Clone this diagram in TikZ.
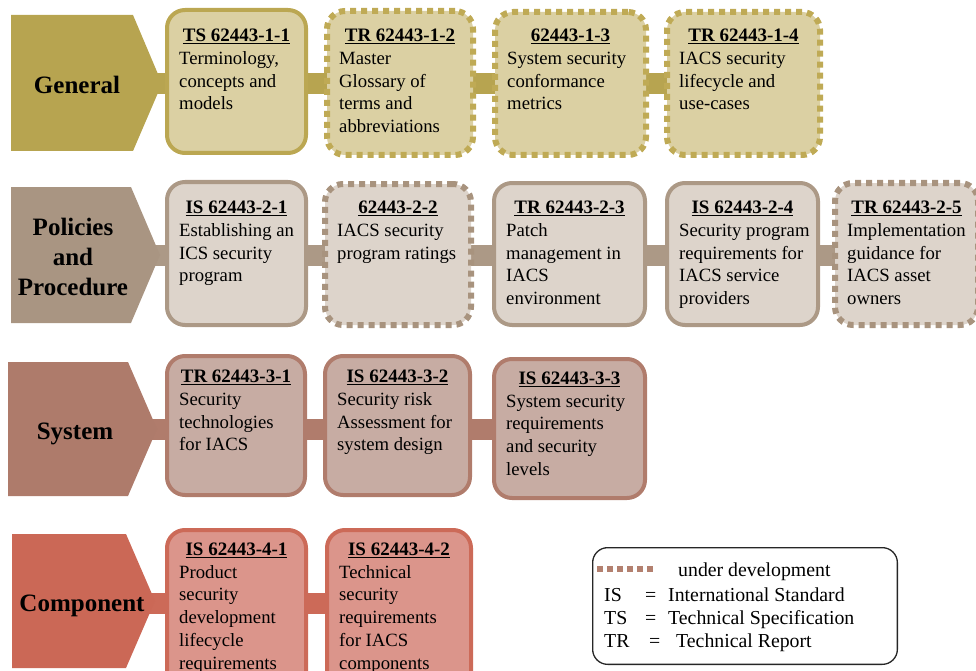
\documentclass[tikz,border=0pt]{standalone}
\usepackage{fontspec}
\setmainfont{Liberation Serif}
\usetikzlibrary{calc}
\pgfdeclarelayer{bars}
\pgfsetlayers{bars,main}

% row colours: dark (label / bar), border, light fill, dotted border
\definecolor{genD}{HTML}{B7A450}\definecolor{genB}{HTML}{BBA752}\definecolor{genL}{HTML}{DBD0A3}\definecolor{genM}{HTML}{BFAA55}
\definecolor{polD}{HTML}{A99582}\definecolor{polB}{HTML}{AC9986}\definecolor{polL}{HTML}{DDD4CB}\definecolor{polM}{HTML}{A8937E}
\definecolor{sysD}{HTML}{AE7B6B}\definecolor{sysB}{HTML}{B07C6C}\definecolor{sysL}{HTML}{C7ACA3}
\definecolor{comD}{HTML}{CB6856}\definecolor{comB}{HTML}{CC6A58}\definecolor{comL}{HTML}{DB958B}
\definecolor{legDot}{HTML}{B3806F}

% bold heading with a heavier underline
\newcommand\hdrline[1]{\setbox0\hbox{\textbf{#1}}\rlap{\vrule height -1.6pt depth 3pt width \wd0}\box0}

% document box: name, style, x1, y1, x2, y2, heading, body lines, heading baseline
\newcommand\docbox[9]{%
  \pgfmathsetmacro\bw{#5-#3-4}\pgfmathsetmacro\bh{#6-#4-4}%
  \pgfmathsetmacro\bx{(#3+#5)/2}\pgfmathsetmacro\by{(#4+#6)/2}%
  \pgfmathsetmacro\bl{#3+14}\pgfmathsetmacro\bt{#9+9}%
  \node[#2, minimum width=\bw pt, minimum height=\bh pt] (#1) at (\bx,\by) {};
  \node[hdr] (#1h) at (\bx,#9) {\hdrline{#7}};
  \node[body] (#1b) at (\bl,\bt) {\rule{0pt}{14pt}#8};
}

\begin{document}
\begin{tikzpicture}[x=1pt,y=-1pt,
  box/.style={draw, rounded corners=18pt, line width=4pt, inner sep=0pt, outer sep=0pt},
  dotbox/.style={box, line width=6pt, dash pattern=on 6pt off 5pt},
  hdr/.style={anchor=base, inner sep=0pt, font=\fontsize{19}{22.7}\selectfont},
  body/.style={anchor=north west, align=left, inner sep=0pt, font=\fontsize{18.7}{22.7}\selectfont},
  lab/.style={anchor=north, align=center, inner sep=0pt, font=\bfseries\fontsize{25}{30.3}\selectfont},
  bar/.style={line width=21pt},
  lg/.style={anchor=base west, inner sep=0pt, font=\fontsize{19.8}{23}\selectfont},
]
\useasboundingbox (0,0) rectangle (976,671);
\clip (0,0) rectangle (976,671);

% ---- row labels (arrow-shaped pentagons)
\fill[genD] (11,15) -- (133,15) -- (162,83.5) -- (133,151) -- (11,151) -- cycle;
\fill[polD] (11,187) -- (131,187) -- (160,255) -- (131,323) -- (11,323) -- cycle;
\fill[sysD] (8,362) -- (128,362) -- (157,429) -- (128,496) -- (8,496) -- cycle;
\fill[comD] (12,534) -- (126,534) -- (155,601) -- (126,668) -- (12,668) -- cycle;

\node[lab] (labG) at (77,75) {\rule{0pt}{18pt}General};
\node[lab] (labP) at (73,217) {\rule{0pt}{18pt}Policies\\and\\Procedure};
\node[lab] (labS) at (75,421) {\rule{0pt}{18pt}System};
\node[lab] (labC) at (82,593) {\rule{0pt}{18pt}Component};

\coordinate (tipG) at (150,83.5);
\coordinate (tipP) at (150,255);
\coordinate (tipS) at (148,429);
\coordinate (tipC) at (145,603);

% ---- General
\docbox{g1}{box, draw=genB, fill=genL}{165}{8}{308}{155}{TS 62443-1-1}{Terminology,\\concepts and\\models}{41.3}
\docbox{g2}{dotbox, draw=genM, fill=genL}{325}{9}{475}{157}{TR 62443-1-2}{Master\\Glossary of\\terms and\\abbreviations}{41.3}
\docbox{g3}{dotbox, draw=genM, fill=genL}{493}{10}{648}{157}{62443-1-3}{System security\\conformance\\metrics}{41.3}
\docbox{g4}{dotbox, draw=genM, fill=genL}{665}{10}{822}{157}{TR 62443-1-4}{IACS security\\lifecycle and\\use-cases}{41.3}

% ---- Policies and Procedure
\docbox{p1}{box, draw=polB, fill=polL}{165}{180}{308}{327}{IS 62443-2-1}{Establishing an\\ICS security\\program}{213.3}
\docbox{p2}{dotbox, draw=polM, fill=polL}{323}{182}{473}{327}{62443-2-2}{IACS security\\program ratings}{213.3}
\docbox{p3}{box, draw=polB, fill=polL}{492}{181}{647}{327}{TR 62443-2-3}{Patch\\management in\\IACS\\environment}{213.3}
\docbox{p4}{box, draw=polB, fill=polL}{665}{181}{820}{327}{IS 62443-2-4}{Security program\\requirements for\\IACS service\\providers}{213.3}
\docbox{p5}{dotbox, draw=polM, fill=polL}{833}{181}{980}{327}{TR 62443-2-5}{Implementation\\guidance for\\IACS asset\\owners}{213.3}

% ---- System
\docbox{s1}{box, draw=sysB, fill=sysL}{165}{354}{307}{497}{TR 62443-3-1}{Security\\technologies\\for IACS}{382.3}
\docbox{s2}{box, draw=sysB, fill=sysL}{323}{354}{472}{497}{IS 62443-3-2}{Security risk\\Assessment for\\system design}{382.3}
\docbox{s3}{box, draw=sysB, fill=sysL}{492}{357}{647}{500}{IS 62443-3-3}{System security\\requirements\\and security\\levels}{384}

% ---- Component
\docbox{c1}{box, draw=comB, fill=comL}{165}{528}{308}{700}{IS 62443-4-1}{Product\\security\\development\\lifecycle\\requirements}{555}
\docbox{c2}{box, draw=comB, fill=comL}{325}{528}{473}{700}{IS 62443-4-2}{Technical\\security\\requirements\\for IACS\\components}{555}

% ---- connecting bars, behind everything
\begin{pgfonlayer}{bars}
\foreach \a/\b in {tipG/g1,g1/g2,g2/g3,g3/g4}
  \draw[bar, draw=genD] (tipG -| \a) -- (tipG -| \b);
\foreach \a/\b in {tipP/p1,p1/p2,p2/p3,p3/p4,p4/p5}
  \draw[bar, draw=polB] (tipP -| \a) -- (tipP -| \b);
\foreach \a/\b in {tipS/s1,s1/s2,s2/s3}
  \draw[bar, draw=sysB] (tipS -| \a) -- (tipS -| \b);
\foreach \a/\b in {tipC/c1,c1/c2}
  \draw[bar, draw=comB] (tipC -| \a) -- (tipC -| \b);
\end{pgfonlayer}

% ---- legend
\node[draw=black!85, line width=1.3pt, rounded corners=15pt, minimum width=304.7pt, minimum height=116.7pt, inner sep=0pt] (legend) at (745,606) {};
\coordinate (dotA) at (597,569);
\coordinate (dotB) at (653,569);
\draw[legDot, line width=5.5pt, dash pattern=on 6pt off 4pt] (dotA) -- (dotB);
\node[lg] (lgU) at (678,576) {under development};
\node[lg] (lgIS) at (604,601) {IS};
\node[lg] (lgISe) at (645,601) {=};
\node[lg] (lgISt) at (668,601) {International Standard};
\node[lg] (lgTS) at (604,624.5) {TS};
\node[lg] (lgTSe) at (645,624.5) {=};
\node[lg] (lgTSt) at (668,624.5) {Technical Specification};
\node[lg] (lgTR) at (604,647.5) {TR};
\node[lg] (lgTRe) at (649,647.5) {=};
\node[lg] (lgTRt) at (676,647.5) {Technical Report};
\end{tikzpicture}
\end{document}
